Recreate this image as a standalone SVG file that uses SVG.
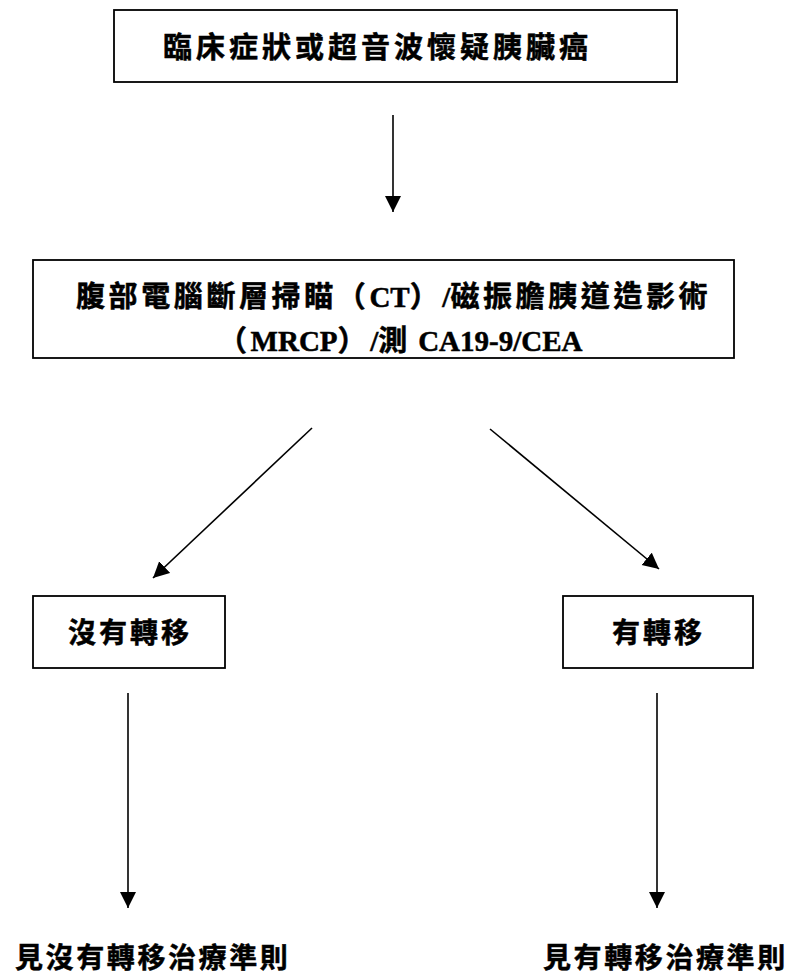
<svg xmlns="http://www.w3.org/2000/svg" width="797" height="977" viewBox="0 0 797 977">
<style>
.box{fill:#fff;stroke:#000;stroke-width:1.8}
.t{font-family:"Liberation Serif","Noto Sans CJK TC",serif;font-weight:bold;font-size:28px;fill:#000;stroke:#000;stroke-width:0.5}
.cj{letter-spacing:3px}
.big{font-size:29px;letter-spacing:4px}
.mid{font-size:29px;letter-spacing:3.6px}
.lat{font-size:29px;letter-spacing:0}
.bot{letter-spacing:2.6px}
.conn{stroke:#000;stroke-width:1.6;fill:none;marker-end:url(#ah)}
</style>
<defs>
<marker id="ah" markerUnits="userSpaceOnUse" markerWidth="17" markerHeight="17" viewBox="0 0 17 17" refX="16" refY="8.5" orient="auto">
<path d="M0,0.5 L16,8.5 L0,16.5 Z" fill="#000"/>
</marker>
</defs>
<rect width="797" height="977" fill="#fff"/>
<g id="n1">
<rect class="box" x="114" y="10" width="563" height="72"/>
<text class="t big" x="163" y="58">臨床症狀或超音波懷疑胰臟癌</text>
</g>
<g id="n2">
<rect class="box" x="33" y="260" width="701" height="98"/>
<text class="t" x="76" y="307"><tspan class="mid">腹部電腦斷層掃瞄（</tspan><tspan class="lat">CT</tspan><tspan class="mid">）</tspan><tspan class="lat">/</tspan><tspan class="mid">磁振膽胰道造影術</tspan></text>
<text class="t" x="218" y="351"><tspan class="mid">（</tspan><tspan class="lat">MRCP</tspan><tspan class="mid">）</tspan><tspan class="lat">/</tspan><tspan class="mid">測</tspan><tspan class="lat"> CA19-9/CEA</tspan></text>
</g>
<g id="n3">
<rect class="box" x="33" y="596" width="192" height="72"/>
<text class="t cj" x="68" y="643">沒有轉移</text>
</g>
<g id="n4">
<rect class="box" x="563" y="596" width="190" height="72"/>
<text class="t cj" x="612" y="643">有轉移</text>
</g>
<g id="n5">
<text class="t bot" x="15" y="968">見沒有轉移治療準則</text>
</g>
<g id="n6">
<text class="t bot" x="543" y="968">見有轉移治療準則</text>
</g>
<g id="connectors">
<line class="conn" x1="393" y1="115" x2="393" y2="212"/>
<line class="conn" x1="312" y1="428" x2="153" y2="578"/>
<line class="conn" x1="490" y1="429" x2="659" y2="569"/>
<line class="conn" x1="128" y1="693" x2="128" y2="908"/>
<line class="conn" x1="657" y1="693" x2="657" y2="908"/>
</g>
</svg>
